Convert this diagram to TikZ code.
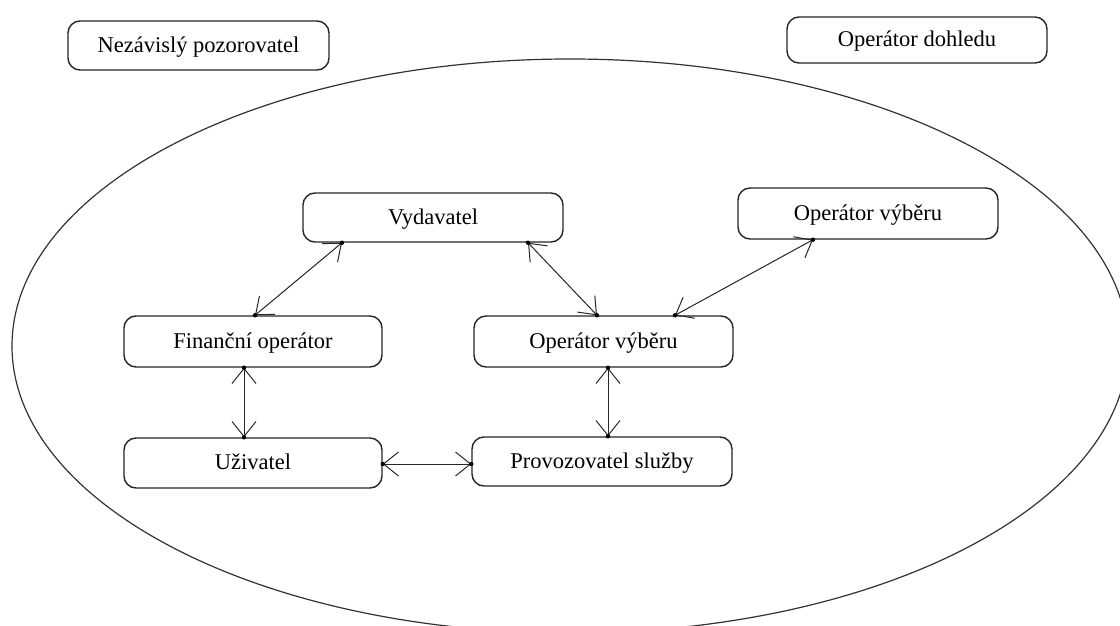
\documentclass[tikz,border=0pt]{standalone}
\usepackage{fontspec}
\setmainfont{Liberation Serif}
\usetikzlibrary{arrows.meta}
\begin{document}
\begin{tikzpicture}[x=1pt,y=-1pt,
  box/.style={draw=black!85, line width=1.4pt, rounded corners=12pt, fill=white,
    minimum width=260pt, minimum height=49pt, inner sep=0pt,
    text height=16pt, text depth=2.5pt,
    font=\fontsize{22.5}{27}\selectfont},
  conn/.style={draw=black!85, line width=1pt,
    {Straight Barb[length=15pt,width=24pt]}-{Straight Barb[length=15pt,width=24pt]}},
  dot/.style={fill=black}]
\useasboundingbox (0,0) rectangle (1120,626);
\clip (0,0) rectangle (1120,626);
\fill[white] (0,0) rectangle (1120,626);
% surrounding ellipse
\draw[black!80, line width=1.2pt] (570,346) ellipse [x radius=558pt, y radius=287pt];
% boxes
\node[box, minimum width=261pt] (np) at (198.5,45.5) {Nezávislý pozorovatel};
\node[box, minimum height=46pt] (od) at (917,40) {Operátor dohledu};
\node[box] (vyd) at (433,217.5) {Vydavatel};
\node[box, minimum height=51pt] (ov1) at (868,213.5) {Operátor výběru};
\node[box, minimum width=258pt, minimum height=51pt] (fin) at (253,341.5) {Finanční operátor};
\node[box, minimum width=259pt, minimum height=51pt] (ov2) at (603.5,341.5) {Operátor výběru};
\node[box, minimum width=258pt, minimum height=50pt] (uz) at (253,463) {Uživatel};
\node[box] (pro) at (602,461.5) {Provozovatel služby};
% connector end points
\coordinate (c1a) at ([xshift=-91pt]vyd.south);
\coordinate (c1b) at ([xshift=2pt]fin.north);
\coordinate (c2a) at ([xshift=95pt]vyd.south);
\coordinate (c2b) at ([xshift=-6.5pt]ov2.north);
\coordinate (c3a) at ([xshift=-55pt]ov1.south);
\coordinate (c3b) at ([xshift=71.5pt]ov2.north);
\coordinate (c4a) at ([xshift=-9pt]fin.south);
\coordinate (c4b) at ([xshift=-9pt]uz.north);
\coordinate (c5a) at ([yshift=-1pt]uz.east);
\coordinate (c5b) at ([yshift=-2.5pt]pro.west);
\coordinate (c6a) at ([xshift=4.5pt]ov2.south);
\coordinate (c6b) at ([xshift=6pt]pro.north);
% connectors
\foreach \a/\b in {c1a/c1b, c2a/c2b, c3a/c3b, c4a/c4b, c5a/c5b, c6a/c6b} {
  \draw[conn] (\a) -- (\b);
  \fill[dot] (\a) circle (2.2pt);
  \fill[dot] (\b) circle (2.2pt);
}
\end{tikzpicture}
\end{document}
